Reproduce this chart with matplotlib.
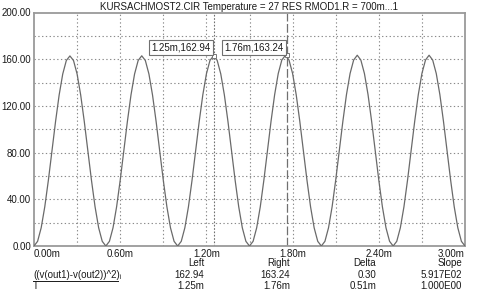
import numpy as np
import matplotlib
matplotlib.use("Agg")
import matplotlib.pyplot as plt
from matplotlib.lines import Line2D

plt.rcParams['font.family'] = ['Liberation Sans', 'DejaVu Sans']

# time axis in ms, one sample every 0.025 ms
t_ms = np.linspace(0.0, 3.0, 121)
# ((v(out1)-v(out2))^2)
vsq = [
    0.0, 4.0, 15.6, 33.6, 56.3, 81.4, 106.6, 129.3, 147.3, 158.9, 162.8,
    158.9, 147.3, 129.3, 106.6, 81.4, 56.3, 33.6, 15.6, 4.0,
    0.0, 4.0, 15.6, 33.6, 56.3, 81.4, 106.6, 129.3, 147.3, 158.9, 162.9,
    158.9, 147.3, 129.3, 106.6, 81.4, 56.3, 33.6, 15.6, 4.0,
    0.0, 4.0, 15.6, 33.6, 56.3, 81.5, 106.7, 129.4, 147.4, 159.0, 162.94,
    159.0, 147.4, 129.4, 106.7, 81.5, 56.3, 33.6, 15.6, 4.0,
    0.0, 4.0, 15.6, 33.6, 56.4, 81.6, 106.9, 129.6, 147.7, 159.3, 163.3,
    159.3, 147.7, 129.6, 106.9, 81.6, 56.4, 33.6, 15.6, 4.0,
    0.0, 4.0, 15.6, 33.6, 56.4, 81.7, 106.9, 129.7, 147.7, 159.3, 163.4,
    159.3, 147.7, 129.7, 106.9, 81.7, 56.4, 33.6, 15.6, 4.0,
    0.0, 4.0, 15.6, 33.6, 56.4, 81.7, 106.9, 129.7, 147.7, 159.3, 163.4,
    159.3, 147.7, 129.7, 106.9, 81.7, 56.4, 33.6, 15.6, 4.0,
    0.0,
]

title = "KURSACHMOST2.CIR Temperature = 27 RES RMOD1.R = 700m...1"
xticks = [0.0, 0.6, 1.2, 1.8, 2.4, 3.0]
xtick_labels = ["0.00m", "0.60m", "1.20m", "1.80m", "2.40m", "3.00m"]
yticks = [0, 40, 80, 120, 160, 200]
ytick_labels = ["0.00", "40.00", "80.00", "120.00", "160.00", "200.00"]

cursor_t = [1.25, 1.76]
cursor_v = [162.94, 163.24]
cursor_labels = ["1.25m,162.94", "1.76m,163.24"]

table_head = ["Left", "Right", "Delta", "Slope"]
row_names = ["((v(out1)-v(out2))^2)\u1d62", "T"]
row_vals = [["162.94", "163.24", "0.30", "5.917E02"],
            ["1.25m", "1.76m", "0.51m", "1.000E00"]]

W, H = 490, 297
fig = plt.figure(figsize=(4.9, 2.97), dpi=100)
ax = fig.add_axes([34 / W, 1 - 246 / H, 431 / W, 233.5 / H])

grid_c = "#8a8a8a"
ink = "#1a1a1a"
fs = 7

ax.set_xlim(0, 3.0)
ax.set_ylim(0, 200)

for gx in np.arange(0.3, 3.0, 0.3):
    ax.axvline(gx, color=grid_c, lw=0.8, ls=(0, (1.2, 2.2)), zorder=1)
for gy in range(20, 200, 20):
    ax.axhline(gy, color=grid_c, lw=0.8, ls=(0, (1.2, 2.2)), zorder=1)

# cursors
ax.axvline(cursor_t[0], color="#707070", lw=0.8, ls=(0, (1.5, 1.5)), zorder=2)
ax.axvline(cursor_t[1], color="#707070", lw=0.9, ls=(0, (7, 2)), zorder=2)

ax.plot(t_ms, vsq, color="#6a6a6a", lw=0.9, zorder=3)
ax.plot(cursor_t, cursor_v, ls="none", marker="s", ms=3, mfc="white",
        mec="#777777", mew=0.7, zorder=4)

for tt, vv, lab in zip(cursor_t, cursor_v, cursor_labels):
    ax.annotate(lab, xy=(tt, vv), xytext=(-3, 3), textcoords="offset pixels",
                ha="right", va="bottom", fontsize=fs, color=ink,
                bbox=dict(boxstyle="square,pad=0.25", fc="white",
                          ec="#707070", lw=0.8), zorder=5)

for s in ax.spines.values():
    s.set_color("#9a9a9a")
    s.set_linewidth(1.3)

ax.set_xticks(xticks)
ax.set_xticklabels(xtick_labels)
ax.set_yticks(yticks)
ax.set_yticklabels(ytick_labels)
ax.tick_params(length=0, labelsize=fs, labelcolor=ink, pad=2)
xl = ax.get_xticklabels()
xl[0].set_ha("left")
xl[-1].set_ha("right")

fig.text(249 / W, 1 - 7 / H, title, ha="center", va="center",
         fontsize=fs, color=ink)

# cursor table under the plot
col_x = [204, 290, 376, 462]
row_y = [263, 275, 286]
for cx, head in zip(col_x, table_head):
    fig.text(cx / W, 1 - row_y[0] / H, head, ha="right", va="center",
             fontsize=fs, color=ink)
for r, (name, vals) in enumerate(zip(row_names, row_vals)):
    y = 1 - row_y[r + 1] / H
    fig.text(33 / W, y, name, ha="left", va="center", fontsize=fs, color=ink)
    for cx, v in zip(col_x, vals):
        fig.text(cx / W, y, v, ha="right", va="center", fontsize=fs, color=ink)
fig.add_artist(Line2D([33 / W, 118 / W], [1 - 280.5 / H] * 2, color=ink,
                      lw=0.7, transform=fig.transFigure))

fig.savefig("out.png", dpi=100, facecolor="white")
